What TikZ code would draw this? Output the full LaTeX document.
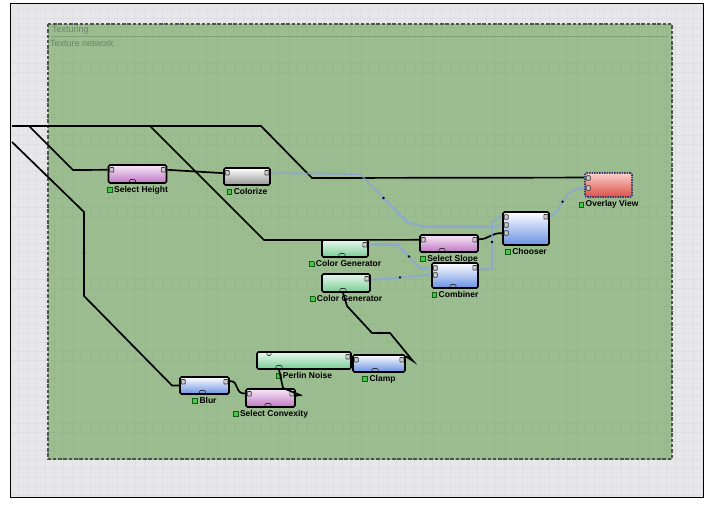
\documentclass[tikz,border=0pt]{standalone}
\usepackage{fontspec}
\setmainfont{Liberation Sans}
\usepackage{xcolor}
\usetikzlibrary{positioning, calc}
\definecolor{cCanvas}{RGB}{231,231,234}
\definecolor{cGridLn}{RGB}{222,222,227}
\definecolor{cArea}{RGB}{156,189,144}
\definecolor{cAreaGrid}{RGB}{151,184,140}
\definecolor{cEdge}{RGB}{75,85,75}
\definecolor{cRule}{RGB}{128,160,118}
\definecolor{cTitle}{RGB}{110,132,104}
\definecolor{cPurple}{RGB}{190,120,195}
\definecolor{cPurpleLt}{RGB}{248,232,248}
\definecolor{cStone}{RGB}{150,152,148}
\definecolor{cMint}{RGB}{120,205,150}
\definecolor{cMintLt}{RGB}{232,248,237}
\definecolor{cSky}{RGB}{105,145,228}
\definecolor{cRose}{RGB}{222,80,72}
\definecolor{cRoseLt}{RGB}{250,208,202}
\definecolor{cSel}{RGB}{60,55,110}
\definecolor{cWire}{RGB}{135,160,238}
\definecolor{cPortDk}{RGB}{20,90,20}
\definecolor{cPortLt}{RGB}{70,200,70}
\newcommand{\gsq}{{\setlength{\fboxsep}{0pt}\setlength{\fboxrule}{.8pt}\fcolorbox{cPortDk}{cPortLt}{\rule{0pt}{4pt}\rule{4pt}{0pt}}}\hspace{1.5pt}}
\tikzset{
	wire/.style   ={line width=1.7pt, black},
	bwire/.style  ={line width=1.8pt, cWire, opacity=.7},
	blk/.style    ={rectangle, rounded corners=1.5pt, draw=black, line width=1.6pt, inner sep=0pt, minimum height=17pt},
	portsq/.style ={solid, draw=black!80, fill=white!80!black, line width=.6pt, rounded corners=.6pt},
	portnub/.style={solid, draw=black!80, line width=.7pt, rounded corners=1pt},
	% ports: left offsets, right offsets, bottom x-offsets, top x-offsets (99 = none)
	ports/.style n args={4}{path picture={
		\foreach \dy in {#1}
			\draw[portsq] ([xshift=1.2pt, yshift={-\dy*1pt}]path picture bounding box.north west) rectangle ++(4pt,-4.5pt);
		\foreach \dy in {#2}
			\draw[portsq] ([xshift=-1.2pt, yshift={-\dy*1pt}]path picture bounding box.north east) rectangle ++(-4pt,-4.5pt);
		\foreach \dx in {#3}
			\draw[portnub] ([xshift={(\dx-3)*1pt}]path picture bounding box.south) -- ++(0pt,3.5pt) -- ++(6pt,0pt) -- ++(0pt,-3.5pt);
		\foreach \dx in {#4}
			\draw[portnub] ([xshift={(\dx-2)*1pt}]path picture bounding box.north) -- ++(0pt,-3.5pt) -- ++(4pt,0pt) -- ++(0pt,3.5pt);
	}},
	lbl/.style    ={font=\bfseries\fontsize{8.5}{9}\selectfont, inner sep=0pt},
	ttl/.style    ={font=\fontsize{9}{10}\selectfont, text=cTitle, inner sep=0pt},
}
\begin{document}
\begin{tikzpicture}[x=1pt, y=-1pt]
	\useasboundingbox (0,0) rectangle (724,508);
	% canvas and group area
	\fill[cCanvas] (10,4) rectangle (703,497);
	\draw[cGridLn, line width=.5pt, step=9pt] (10,4) grid (703,497);
	\fill[cArea] (48,24) rectangle (672,459);
	\draw[cAreaGrid, line width=.4pt, step=9pt] (48,24) grid (672,459);
	\draw[cEdge, line width=1.6pt, dash pattern=on 3.5pt off 1.8pt] (48,24) rectangle (672,459);
	\draw[cRule, line width=.8pt] (50,36) -- (668,36);
	\draw[black, line width=1pt] (10,4) rectangle (703,497);
	\node[ttl, anchor=base west] (ttex) at (52,33) {Texturing};
	\node[ttl, anchor=base west] (tnet) at (50,47) {Texture network};

	% nodes
	\node[blk, minimum width=58pt, minimum height=18pt, top color=cPurpleLt, bottom color=cPurple, ports={2.5}{2.5}{-5}{99}] (sh) at (137.5,174) {};
	\node[blk, minimum width=46pt, top color=white, bottom color=cStone, ports={2.5}{2.5}{99}{99}] (col) at (247,176.5) {};
	\node[blk, minimum width=47pt, minimum height=24pt, draw=cSel, dash pattern=on 1.5pt off 1pt, top color=cRoseLt, bottom color=cRose, ports={2.75,12.75}{99}{99}{99}] (ov) at (608.5,185) {};
	\node[blk, minimum width=46pt, minimum height=33pt, top color=white, bottom color=cSky, ports={2.75,10.75,18.75}{2.5}{99}{99}] (cho) at (526,228.5) {};
	\node[blk, minimum width=58pt, top color=cPurpleLt, bottom color=cPurple, ports={2.5}{2.5}{-7}{99}] (ss) at (449,243.5) {};
	\node[blk, minimum width=46pt, minimum height=25pt, top color=white, bottom color=cSky, ports={2.75,9.75}{2.5}{-2}{99}] (cmb) at (455,275.5) {};
	\node[blk, minimum width=46pt, top color=cMintLt, bottom color=cMint, ports={99}{2.5}{-3}{99}] (cg1) at (345,248.5) {};
	\node[blk, minimum width=48pt, minimum height=18pt, top color=cMintLt, bottom color=cMint, ports={99}{2.5}{-3}{99}] (cg2) at (346,283) {};
	\node[blk, minimum width=94pt, top color=cMintLt, bottom color=cMint, ports={99}{2.5}{-25}{-35}] (pn) at (304,360.5) {};
	\node[blk, minimum width=52pt, top color=white, bottom color=cSky, ports={2.5}{2.5}{-4}{99}] (cl) at (379,363.5) {};
	\node[blk, minimum width=49pt, top color=white, bottom color=cSky, ports={2.5}{2.5}{-2}{99}] (blur) at (204.5,385.5) {};
	\node[blk, minimum width=49pt, minimum height=18pt, top color=cPurpleLt, bottom color=cPurple, ports={2.5}{2.5}{-2.5}{99}] (sc) at (270.5,398) {};

	% labels
	\node[lbl, below=2pt of sh] (shL) {\gsq Select Height};
	\node[lbl, below=2pt of col] (colL) {\gsq Colorize};
	\node[lbl, below=2.5pt of ov] (ovL) {\gsq Overlay View};
	\node[lbl, below=2pt of cho] (choL) {\gsq Chooser};
	\node[lbl, below=2pt of ss] (ssL) {\gsq Select Slope};
	\node[lbl, below=2pt of cmb] (cmbL) {\gsq Combiner};
	\node[lbl, below=2pt of cg1] (cg1L) {\gsq Color Generator};
	\node[lbl, below=2pt of cg2] (cg2L) {\gsq Color Generator};
	\node[lbl, below=2pt of pn] (pnL) {\gsq Perlin Noise};
	\node[lbl, below=2pt of cl] (clL) {\gsq Clamp};
	\node[lbl, below=2pt of blur] (blurL) {\gsq Blur};
	\node[lbl, below=2pt of sc] (scL) {\gsq Select Convexity};

	% connections
	\coordinate (inA) at (12,126);
	\coordinate (inB) at (12,142);
	\coordinate (brA) at (29,126);
	\coordinate (brB) at (150,126);
	\draw[wire] (inA) -- (261,126) -- (312,178) -- (ov.163);
	\draw[wire] (brA) -- (73,170) -- (sh.172);
	\draw[wire] (sh.8) -- (col.172);
	\draw[wire] (brB) -- (264,240) -- (ss.173);
	\draw[wire] (inB) -- (84,212) -- (84,296) -- (172,385.5) -- (blur.west);
	\draw[wire] (blur.10) .. controls (240,381) and (234,394) .. (sc.170);
	\draw[wire] ([xshift=-25pt]pn.south) -- (283,388) -- (300,395) -- (sc.5);
	\draw[wire] (pn.east) -- (cl.west);
	\draw[wire] (cl.15) -- (413,361) -- (390,333) -- (372,333) -- (347,306) -- ([xshift=-3pt]cg2.south);
	\draw[wire] (ss.8) .. controls (490,239) and (490,233) .. (cho.191);
	\draw[bwire] (col.8) -- (360,174) -- (407,222) -- (425,227) -- (492,227) -- (cho.171);
	\draw[bwire] (cmb.15) -- (492,269) -- (492,221) -- (cho.153);
	\draw[bwire] (cg1.9) -- (398,245) -- (420,268) -- (cmb.162);
	\draw[bwire] (cg2.7) -- (cmb.178);
	\draw[bwire] (cho.27) .. controls (562,214) and (560,189) .. (ov.187);
	\foreach \p in {(383.5,198),(409,256.5),(400,277.4),(562.5,201.7),(492,242),(84,253),(381,333)}
		\fill[black] \p circle (1.3pt);
\end{tikzpicture}
\end{document}
